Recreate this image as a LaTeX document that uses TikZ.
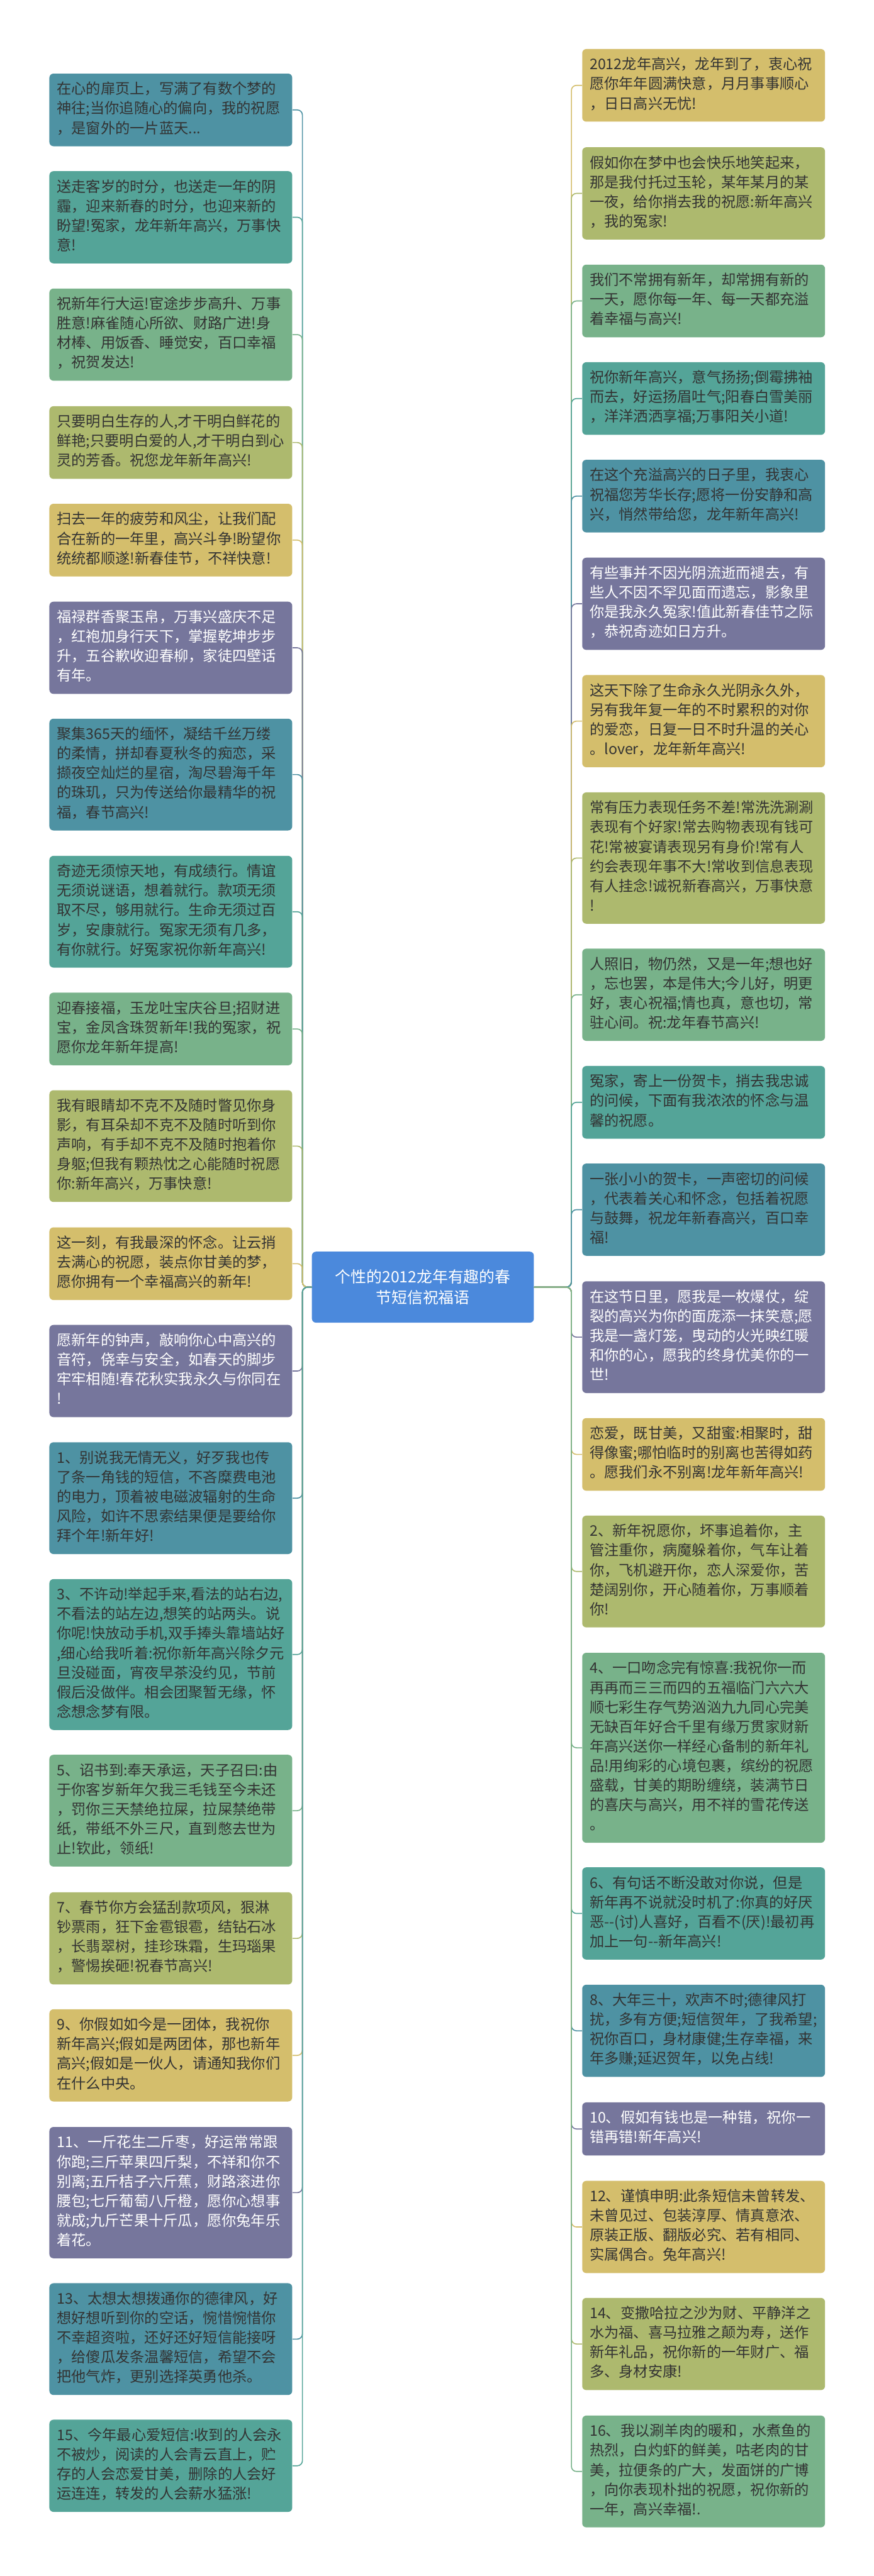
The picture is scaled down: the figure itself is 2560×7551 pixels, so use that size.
\documentclass[tikz,border=0pt]{standalone}
\usepackage{fontspec}
\setmainfont{Noto Sans CJK SC}
\usepackage{xcolor}
\usepackage{tikz}

\definecolor{mapblue}{RGB}{78,146,163}
\definecolor{mapteal}{RGB}{84,164,152}
\definecolor{mapgreen}{RGB}{120,178,138}
\definecolor{mapolive}{RGB}{173,185,110}
\definecolor{mapmustard}{RGB}{212,190,108}
\definecolor{mappurple}{RGB}{118,118,156}
\definecolor{hubblue}{RGB}{75,137,220}
\definecolor{inkgray}{RGB}{51,51,51}

\begin{document}
\begin{tikzpicture}[x=0.01cm, y=-0.01cm,
  leaf/.style={rounded corners=0.12cm, anchor=north west, align=left,
    text width=6.67cm, inner xsep=0.22cm, inner ysep=0.205cm, text=inkgray,
    font=\fontsize{12.18pt}{16.3pt}\selectfont,
    execute at begin node=\strut, execute at end node=\strut},
  leafw/.style={leaf, text=white},
  hub/.style={rounded corners=0.12cm, fill=hubblue, text=white, align=center,
    minimum width=6.5cm, minimum height=2.08cm,
    font=\fontsize{13pt}{17pt}\selectfont},
  link/.style={line width=0.03cm, rounded corners=0.15cm}]
\useasboundingbox (0,0) rectangle (2560,7551);
%%%%% Centre %%%%%
\node[hub] (hub) at (1239,3773) {个性的2012龙年有趣的春\\节短信祝福语};
\coordinate (lt) at (886,3773);
\coordinate (rt) at (1674,3773);
%%%%% Left column %%%%%
\node[leaf, fill=mapblue] (l1) at (144,215) {在心的扉页上，写满了有数个梦的\\
神往;当你追随心的偏向，我的祝愿\\
，是窗外的一片蓝天...};
\node[leaf, fill=mapteal] (l2) at (144,501) {送走客岁的时分，也送走一年的阴\\
霾，迎来新春的时分，也迎来新的\\
盼望!冤家，龙年新年高兴，万事快\\
意!};
\node[leaf, fill=mapgreen] (l3) at (144,845) {祝新年行大运!宦途步步高升、万事\\
胜意!麻雀随心所欲、财路广进!身\\
材棒、用饭香、睡觉安，百口幸福\\
，祝贺发达!};
\node[leaf, fill=mapolive] (l4) at (144,1190) {只要明白生存的人,才干明白鲜花的\\
鲜艳;只要明白爱的人,才干明白到心\\
灵的芳香。祝您龙年新年高兴!};
\node[leaf, fill=mapmustard] (l5) at (144,1476) {扫去一年的疲劳和风尘，让我们配\\
合在新的一年里，高兴斗争!盼望你\\
统统都顺遂!新春佳节，不祥快意!};
\node[leafw, fill=mappurple] (l6) at (144,1763) {福禄群香聚玉帛，万事兴盛庆不足\\
，红袍加身行天下，掌握乾坤步步\\
升，五谷歉收迎春柳，家徒四壁话\\
有年。};
\node[leaf, fill=mapblue] (l7) at (144,2106) {聚集365天的缅怀，凝结千丝万缕\\
的柔情，拼却春夏秋冬的痴恋，采\\
撷夜空灿烂的星宿，淘尽碧海千年\\
的珠玑，只为传送给你最精华的祝\\
福，春节高兴!};
\node[leaf, fill=mapteal] (l8) at (144,2508) {奇迹无须惊天地，有成绩行。情谊\\
无须说谜语，想着就行。款项无须\\
取不尽，够用就行。生命无须过百\\
岁，安康就行。冤家无须有几多，\\
有你就行。好冤家祝你新年高兴!};
\node[leaf, fill=mapgreen] (l9) at (144,2909) {迎春接福，玉龙吐宝庆谷旦;招财进\\
宝，金凤含珠贺新年!我的冤家，祝\\
愿你龙年新年提高!};
\node[leaf, fill=mapolive] (l10) at (144,3195) {我有眼睛却不克不及随时瞥见你身\\
影，有耳朵却不克不及随时听到你\\
声响，有手却不克不及随时抱着你\\
身躯;但我有颗热忱之心能随时祝愿\\
你:新年高兴，万事快意!};
\node[leaf, fill=mapmustard] (l11) at (144,3597) {这一刻，有我最深的怀念。让云捎\\
去满心的祝愿，装点你甘美的梦，\\
愿你拥有一个幸福高兴的新年!};
\node[leafw, fill=mappurple] (l12) at (144,3883) {愿新年的钟声，敲响你心中高兴的\\
音符，侥幸与安全，如春天的脚步\\
牢牢相随!春花秋实我永久与你同在\\
!};
\node[leaf, fill=mapblue] (l13) at (144,4227) {1、别说我无情无义，好歹我也传\\
了条一角钱的短信，不吝糜费电池\\
的电力，顶着被电磁波辐射的生命\\
风险，如许不思索结果便是要给你\\
拜个年!新年好!};
\node[leaf, fill=mapteal] (l14) at (144,4628) {3、不许动!举起手来,看法的站右边,\\
不看法的站左边,想笑的站两头。说\\
你呢!快放动手机,双手捧头靠墙站好\\
,细心给我听着:祝你新年高兴除夕元\\
旦没碰面，宵夜早茶没约见，节前\\
假后没做伴。相会团聚暂无缘，怀\\
念想念梦有限。};
\node[leaf, fill=mapgreen] (l15) at (144,5143) {5、诏书到:奉天承运，天子召曰:由\\
于你客岁新年欠我三毛钱至今未还\\
，罚你三天禁绝拉屎，拉屎禁绝带\\
纸，带纸不外三尺，直到憋去世为\\
止!钦此，领纸!};
\node[leaf, fill=mapolive] (l16) at (144,5546) {7、春节你方会猛刮款项风，狠淋\\
钞票雨，狂下金雹银雹，结钻石冰\\
，长翡翠树，挂珍珠霜，生玛瑙果\\
，警惕挨砸!祝春节高兴!};
\node[leaf, fill=mapmustard] (l17) at (144,5889) {9、你假如如今是一团体，我祝你\\
新年高兴;假如是两团体，那也新年\\
高兴;假如是一伙人，请通知我你们\\
在什么中央。};
\node[leafw, fill=mappurple] (l18) at (144,6234) {11、一斤花生二斤枣，好运常常跟\\
你跑;三斤苹果四斤梨，不祥和你不\\
别离;五斤桔子六斤蕉，财路滚进你\\
腰包;七斤葡萄八斤橙，愿你心想事\\
就成;九斤芒果十斤瓜，愿你兔年乐\\
着花。};
\node[leaf, fill=mapblue] (l19) at (144,6692) {13、太想太想拨通你的德律风，好\\
想好想听到你的空话，惋惜惋惜你\\
不幸超资啦，还好还好短信能接呀\\
，给傻瓜发条温馨短信，希望不会\\
把他气炸，更别选择英勇他杀。};
\node[leaf, fill=mapteal] (l20) at (144,7092) {15、今年最心爱短信:收到的人会永\\
不被炒，阅读的人会青云直上，贮\\
存的人会恋爱甘美，删除的人会好\\
运连连，转发的人会薪水猛涨!};
%%%%% Right column %%%%%
\node[leaf, fill=mapmustard] (r1) at (1705,143) {2012龙年高兴，龙年到了，衷心祝\\
愿你年年圆满快意，月月事事顺心\\
，日日高兴无忧!};
\node[leaf, fill=mapolive] (r2) at (1705,431) {假如你在梦中也会快乐地笑起来，\\
那是我付托过玉轮，某年某月的某\\
一夜，给你捎去我的祝愿:新年高兴\\
，我的冤家!};
\node[leaf, fill=mapgreen] (r3) at (1705,775) {我们不常拥有新年，却常拥有新的\\
一天，愿你每一年、每一天都充溢\\
着幸福与高兴!};
\node[leaf, fill=mapteal] (r4) at (1705,1061) {祝你新年高兴，意气扬扬;倒霉拂袖\\
而去，好运扬眉吐气;阳春白雪美丽\\
，洋洋洒洒享福;万事阳关小道!};
\node[leaf, fill=mapblue] (r5) at (1705,1347) {在这个充溢高兴的日子里，我衷心\\
祝福您芳华长存;愿将一份安静和高\\
兴，悄然带给您，龙年新年高兴!};
\node[leafw, fill=mappurple] (r6) at (1705,1634) {有些事并不因光阴流逝而褪去，有\\
些人不因不罕见面而遗忘，影象里\\
你是我永久冤家!值此新春佳节之际\\
，恭祝奇迹如日方升。};
\node[leaf, fill=mapmustard] (r7) at (1705,1978) {这天下除了生命永久光阴永久外，\\
另有我年复一年的不时累积的对你\\
的爱恋，日复一日不时升温的关心\\
。lover，龙年新年高兴!};
\node[leaf, fill=mapolive] (r8) at (1705,2322) {常有压力表现任务不差!常洗洗涮涮\\
表现有个好家!常去购物表现有钱可\\
花!常被宴请表现另有身价!常有人\\
约会表现年事不大!常收到信息表现\\
有人挂念!诚祝新春高兴，万事快意\\
!};
\node[leaf, fill=mapgreen] (r9) at (1705,2780) {人照旧，物仍然，又是一年;想也好\\
，忘也罢，本是伟大;今儿好，明更\\
好，衷心祝福;情也真，意也切，常\\
驻心间。祝:龙年春节高兴!};
\node[leaf, fill=mapteal] (r10) at (1705,3124) {冤家，寄上一份贺卡，捎去我忠诚\\
的问候，下面有我浓浓的怀念与温\\
馨的祝愿。};
\node[leaf, fill=mapblue] (r11) at (1705,3410) {一张小小的贺卡，一声密切的问候\\
，代表着关心和怀念，包括着祝愿\\
与鼓舞，祝龙年新春高兴，百口幸\\
福!};
\node[leafw, fill=mappurple] (r12) at (1705,3755) {在这节日里，愿我是一枚爆仗，绽\\
裂的高兴为你的面庞添一抹笑意;愿\\
我是一盏灯笼，曳动的火光映红暖\\
和你的心，愿我的终身优美你的一\\
世!};
\node[leaf, fill=mapmustard] (r13) at (1705,4156) {恋爱，既甘美，又甜蜜:相聚时，甜\\
得像蜜;哪怕临时的别离也苦得如药\\
。愿我们永不别离!龙年新年高兴!};
\node[leaf, fill=mapolive] (r14) at (1705,4442) {2、新年祝愿你，坏事追着你，主\\
管注重你，病魔躲着你，气车让着\\
你，飞机避开你，恋人深爱你，苦\\
楚阔别你，开心随着你，万事顺着\\
你!};
\node[leaf, fill=mapgreen] (r15) at (1705,4844) {4、一口吻念完有惊喜:我祝你一而\\
再再而三三而四的五福临门六六大\\
顺七彩生存气势汹汹九九同心完美\\
无缺百年好合千里有缘万贯家财新\\
年高兴送你一样经心备制的新年礼\\
品!用绚彩的心境包裹，缤纷的祝愿\\
盛载，甘美的期盼缠绕，装满节日\\
的喜庆与高兴，用不祥的雪花传送\\
。};
\node[leaf, fill=mapteal] (r16) at (1705,5473) {6、有句话不断没敢对你说，但是\\
新年再不说就没时机了:你真的好厌\\
恶-{}-(讨)人喜好，百看不(厌)!最初再\\
加上一句-{}-新年高兴!};
\node[leaf, fill=mapblue] (r17) at (1705,5817) {8、大年三十，欢声不时;德律风打\\
扰，多有方便;短信贺年，了我希望;\\
祝你百口，身材康健;生存幸福，来\\
年多赚;延迟贺年，以免占线!};
\node[leafw, fill=mappurple] (r18) at (1705,6162) {10、假如有钱也是一种错，祝你一\\
错再错!新年高兴!};
\node[leaf, fill=mapmustard] (r19) at (1705,6392) {12、谨慎申明:此条短信未曾转发、\\
未曾见过、包装淳厚、情真意浓、\\
原装正版、翻版必究、若有相同、\\
实属偶合。兔年高兴!};
\node[leaf, fill=mapolive] (r20) at (1705,6735) {14、变撒哈拉之沙为财、平静洋之\\
水为福、喜马拉雅之颠为寿，送作\\
新年礼品，祝你新的一年财广、福\\
多、身材安康!};
\node[leaf, fill=mapgreen] (r21) at (1705,7080) {16、我以涮羊肉的暖和，水煮鱼的\\
热烈，白灼虾的鲜美，咕老肉的甘\\
美，拉便条的广大，发面饼的广博\\
，向你表现朴拙的祝愿，祝你新的\\
一年，高兴幸福!.};
%%%%% Left links %%%%%
\draw[link, mapblue] (hub.west) -- (lt) |- (l1.east);
\draw[link, mapteal] (hub.west) -- (lt) |- (l2.east);
\draw[link, mapgreen] (hub.west) -- (lt) |- (l3.east);
\draw[link, mapolive] (hub.west) -- (lt) |- (l4.east);
\draw[link, mapmustard] (hub.west) -- (lt) |- (l5.east);
\draw[link, mappurple] (hub.west) -- (lt) |- (l6.east);
\draw[link, mapblue] (hub.west) -- (lt) |- (l7.east);
\draw[link, mapteal] (hub.west) -- (lt) |- (l8.east);
\draw[link, mapgreen] (hub.west) -- (lt) |- (l9.east);
\draw[link, mapolive] (hub.west) -- (lt) |- (l10.east);
\draw[link, mapmustard] (hub.west) -- (lt) |- (l11.east);
\draw[link, mappurple] (hub.west) -- (lt) |- (l12.east);
\draw[link, mapblue] (hub.west) -- (lt) |- (l13.east);
\draw[link, mapteal] (hub.west) -- (lt) |- (l14.east);
\draw[link, mapgreen] (hub.west) -- (lt) |- (l15.east);
\draw[link, mapolive] (hub.west) -- (lt) |- (l16.east);
\draw[link, mapmustard] (hub.west) -- (lt) |- (l17.east);
\draw[link, mappurple] (hub.west) -- (lt) |- (l18.east);
\draw[link, mapblue] (hub.west) -- (lt) |- (l19.east);
\draw[link, mapteal] (hub.west) -- (lt) |- (l20.east);
%%%%% Right links %%%%%
\draw[link, mapmustard] (hub.east) -- (rt) |- (r1.west);
\draw[link, mapolive] (hub.east) -- (rt) |- (r2.west);
\draw[link, mapgreen] (hub.east) -- (rt) |- (r3.west);
\draw[link, mapteal] (hub.east) -- (rt) |- (r4.west);
\draw[link, mapblue] (hub.east) -- (rt) |- (r5.west);
\draw[link, mappurple] (hub.east) -- (rt) |- (r6.west);
\draw[link, mapmustard] (hub.east) -- (rt) |- (r7.west);
\draw[link, mapolive] (hub.east) -- (rt) |- (r8.west);
\draw[link, mapgreen] (hub.east) -- (rt) |- (r9.west);
\draw[link, mapteal] (hub.east) -- (rt) |- (r10.west);
\draw[link, mapblue] (hub.east) -- (rt) |- (r11.west);
\draw[link, mappurple] (hub.east) -- (rt) |- (r12.west);
\draw[link, mapmustard] (hub.east) -- (rt) |- (r13.west);
\draw[link, mapolive] (hub.east) -- (rt) |- (r14.west);
\draw[link, mapgreen] (hub.east) -- (rt) |- (r15.west);
\draw[link, mapteal] (hub.east) -- (rt) |- (r16.west);
\draw[link, mapblue] (hub.east) -- (rt) |- (r17.west);
\draw[link, mappurple] (hub.east) -- (rt) |- (r18.west);
\draw[link, mapmustard] (hub.east) -- (rt) |- (r19.west);
\draw[link, mapolive] (hub.east) -- (rt) |- (r20.west);
\draw[link, mapgreen] (hub.east) -- (rt) |- (r21.west);
\end{tikzpicture}
\end{document}
